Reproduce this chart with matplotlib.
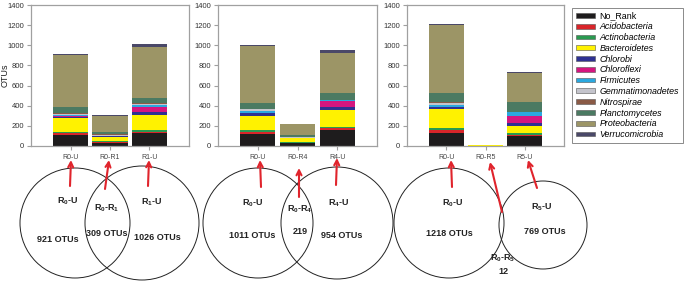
import matplotlib
matplotlib.use("Agg")
import matplotlib.pyplot as plt
from matplotlib.patches import Circle, Patch
import numpy as np

plt.rcParams['font.family'] = ['Liberation Sans', 'DejaVu Sans']
plt.rcParams['mathtext.fontset'] = 'custom'
plt.rcParams['mathtext.rm'] = 'Liberation Sans:bold'
plt.rcParams['mathtext.it'] = 'Liberation Sans:bold'
plt.rcParams['mathtext.bf'] = 'Liberation Sans:bold'

# ---------------- data ----------------
phyla = ["No_Rank", "Acidobacteria", "Actinobacteria", "Bacteroidetes", "Chlorobi",
         "Chloroflexi", "Firmicutes", "Gemmatimonadetes", "Nitrospirae",
         "Planctomycetes", "Proteobacteria", "Verrucomicrobia"]
colors = ["#1e1c1d", "#d9252a", "#2a9a50", "#fff200", "#2e3192", "#d4167f",
          "#2aa8df", "#c4c4cc", "#8a5a46", "#4b7a62", "#9c9566", "#4a4868"]

cats1 = ["R0-U", "R0-R1", "R1-U"]
cats2 = ["R0-U", "R0-R4", "R4-U"]
cats3 = ["R0-U", "R0-R5", "R5-U"]

# rows = phyla, columns = categories
vals1 = np.array([
    [105, 33, 126],
    [25, 10, 13],
    [5, 2, 20],
    [140, 45, 149],
    [10, 5, 32],
    [8, 3, 44],
    [15, 5, 22],
    [10, 8, 8],
    [8, 8, 10],
    [60, 20, 50],
    [515, 160, 510],
    [12, 5, 28],
])
vals2 = np.array([
    [116, 28, 159],
    [23, 5, 23],
    [20, 3, 10],
    [139, 40, 165],
    [27, 3, 33],
    [5, 2, 60],
    [15, 3, 3],
    [20, 5, 2],
    [5, 5, 2],
    [54, 20, 73],
    [570, 100, 390],
    [12, 4, 30],
])
vals3 = np.array([
    [126, 4, 99],
    [33, 0, 8],
    [16, 0, 18],
    [192, 1, 77],
    [20, 0, 23],
    [5, 0, 73],
    [15, 0, 36],
    [15, 0, 5],
    [10, 0, 3],
    [98, 1, 98],
    [670, 5, 285],
    [14, 1, 12],
])

yticks = [0, 200, 400, 600, 800, 1000, 1200, 1400]

venn_names = [("R$_0$-U", "R$_0$-R$_1$", "R$_1$-U"),
              ("R$_0$-U", "R$_0$-R$_4$", "R$_4$-U"),
              ("R$_0$-U", "R$_0$-R$_5$", "R$_5$-U")]
venn_counts = [("921 OTUs", "309 OTUs", "1026 OTUs"),
               ("1011 OTUs", "219", "954 OTUs"),
               ("1218 OTUs", "12", "769 OTUs")]

# ---------------- layout ----------------
W, H = 686, 284
fig = plt.figure(figsize=(W / 100, H / 100), dpi=100)

axes_px = [(31, 158), (218, 159), (407, 157)]  # left, width in px
top_px, bot_px = 5, 146

grey = "#a0a0a0"
tick_col = "#333333"

all_axes = []
for (lp, wp), cats, vals in zip(axes_px, [cats1, cats2, cats3], [vals1, vals2, vals3]):
    ax = fig.add_axes([lp / W, 1 - bot_px / H, wp / W, (bot_px - top_px) / H])
    x = np.arange(1, len(cats) + 1)
    bottom = np.zeros(len(cats))
    for i, (ph, col) in enumerate(zip(phyla, colors)):
        ax.bar(x, vals[i], width=0.89, bottom=bottom, color=col, linewidth=0, label=ph)
        bottom += vals[i]
    ax.set_xlim(0, 4)
    ax.set_ylim(0, 1400)
    ax.set_yticks(yticks)
    ax.set_xticks(x)
    ax.set_xticklabels(cats, fontsize=5, color="#444444")
    ax.tick_params(axis='y', labelsize=5.5, colors=grey, labelcolor=tick_col, length=3, width=0.8, pad=2)
    ax.tick_params(axis='x', colors=grey, labelcolor="#444444", length=3, width=0.8, pad=3)
    for s in ax.spines.values():
        s.set_color(grey)
        s.set_linewidth(0.9)
    all_axes.append(ax)

all_axes[0].set_ylabel("OTUs", fontsize=6.5, color="#222222")
all_axes[0].yaxis.set_label_coords(-21 / 158, 0.5)

# legend
handles = [Patch(facecolor=c, edgecolor="#555555", linewidth=0.4) for c in colors]
leg = fig.legend(handles, phyla, loc="upper left", bbox_to_anchor=(572 / W, 1 - 8 / H),
                 fontsize=6.4, frameon=True, fancybox=False, edgecolor="#555555",
                 handlelength=2.2, handleheight=0.45, labelspacing=0.2,
                 handletextpad=0.5, borderpad=0.4, borderaxespad=0)
leg.get_frame().set_linewidth(0.6)
for t in leg.get_texts()[1:]:
    t.set_style("italic")

# ---------------- venn overlay ----------------
ov = fig.add_axes([0, 0, 1, 1])
ov.set_xlim(0, W)
ov.set_ylim(H, 0)
ov.axis("off")
ov.patch.set_alpha(0)

circles = [[(75, 223, 55), (142, 223, 57)],
           [(258, 223, 55), (337, 223, 56)],
           [(449, 223, 55), (543, 225, 44)]]
for pair in circles:
    for cx, cy, r in pair:
        ov.add_patch(Circle((cx, cy), r, fill=False, edgecolor="#222222", linewidth=0.7))

name_pos = [[(68, 201), (107, 208), (152, 202)],
            [(253, 203), (300, 209), (339, 203)],
            [(453, 203), (503, 258), (542, 207)]]
count_pos = [[(58, 239), (107, 233), (157, 238)],
             [(252, 235), (300, 231), (342, 235)],
             [(449, 233), (503, 272), (545, 232)]]
for names, counts, npos, cpos in zip(venn_names, venn_counts, name_pos, count_pos):
    for nm, ct, (nx, ny), (cx, cy) in zip(names, counts, npos, cpos):
        ov.text(nx, ny, nm, ha="center", va="center", fontsize=6.5, fontweight="bold", color="#222222")
        ov.text(cx, cy, ct, ha="center", va="center", fontsize=6.5, fontweight="bold", color="#222222")

arrows = [[((70, 186), (71, 160)), ((105, 189), (109, 160)), ((148, 186), (149, 160))],
          [((261, 187), (260, 160)), ((299, 197), (299, 168)), ((336, 185), (337, 158))],
          [((452, 187), (451, 160)), ((502, 212), (490, 162)), ((537, 188), (528, 160))]]
for grp in arrows:
    for (tx, ty), (hx, hy) in grp:
        ov.annotate("", xy=(hx, hy), xytext=(tx, ty),
                    arrowprops=dict(arrowstyle="->", color="#e0242c", lw=1.5,
                                    mutation_scale=9, shrinkA=0, shrinkB=0))

fig.savefig("out.png", dpi=100)
